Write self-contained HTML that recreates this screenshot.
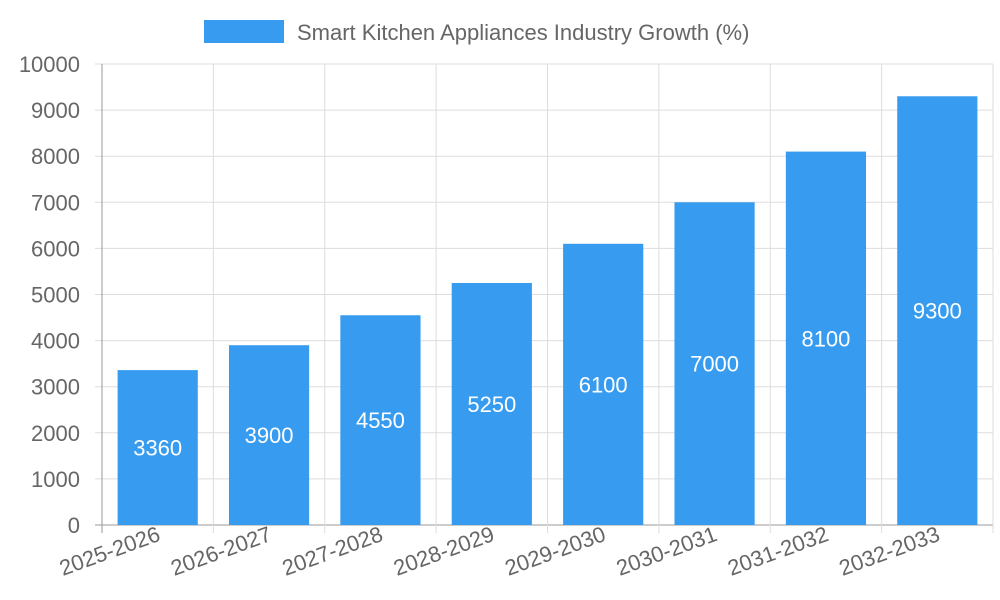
<!DOCTYPE html>
<html><head><meta charset="utf-8"><style>
html,body{margin:0;padding:0;background:#fff;width:1000px;height:600px;overflow:hidden}
svg text{font-family:"Liberation Sans",sans-serif}
</style></head><body>
<svg id="chart" width="1000" height="600" xmlns="http://www.w3.org/2000/svg">
<g>
<rect x="204" y="20" width="80" height="23" fill="#379cf0"/>
<text x="297" y="40" font-size="22" fill="#666">Smart Kitchen Appliances Industry Growth (%)</text>
</g>
<g id="grid"></g><g id="bars"></g><g id="labels"></g>
</svg>
<script>
const categories=["2025-2026","2026-2027","2027-2028","2028-2029","2029-2030","2030-2031","2031-2032","2032-2033"];
const values=[3360,3900,4550,5250,6100,7000,8100,9300];
const yTicks=[0,1000,2000,3000,4000,5000,6000,7000,8000,9000,10000];
const NS="http://www.w3.org/2000/svg";
const L=102,R=993,T=64,B=525,yMax=10000;
const bw=(R-L)/categories.length;
const y=v=>B-(v/yMax)*(B-T);
const xc=i=>L+bw*(i+0.5);
function mk(tag,attrs,parent,txt){const e=document.createElementNS(NS,tag);for(const k in attrs)e.setAttribute(k,attrs[k]);if(txt!==undefined)e.textContent=txt;document.getElementById(parent).appendChild(e);return e;}
yTicks.forEach(t=>{
 const g=mk('line',{x1:95,x2:R,y1:y(t),y2:y(t),stroke:t===0?'#999':'#ddd','stroke-width':1},'grid');
 
 
 const tx=mk('text',{x:80,y:y(t)+8,'text-anchor':'end','font-size':22,fill:'#666'},'labels',String(t));
 
 
});
for(let i=0;i<=categories.length;i++){
 const x=L+bw*i;
 const g=mk('line',{x1:x,x2:x,y1:T,y2:B+8,stroke:i===0?'#999':'#ddd','stroke-width':1},'grid');
 
 
}
categories.forEach((c,i)=>{
 const v=values[i],w=bw*0.72,x=xc(i)-w/2;
 const r=mk('rect',{x:x,y:y(v),width:w,height:B-y(v),fill:'#379cf0'},'bars');
 
 
 const vl=mk('text',{x:xc(i),y:(y(v)+B)/2+8,'text-anchor':'middle','font-size':22,fill:'#fff'},'labels',String(v));
 
 
 const cx=xc(i)+4,cy=540;
 const xl=mk('text',{x:cx,y:cy,'text-anchor':'end','font-size':22,fill:'#666',transform:`rotate(-20 ${cx} ${cy})`},'labels',c);
 
 
});
</script>
</body></html>
